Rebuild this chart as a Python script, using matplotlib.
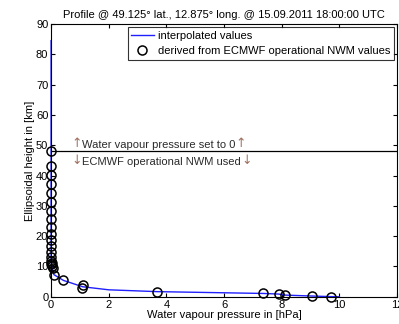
import matplotlib
matplotlib.use("Agg")
import matplotlib.pyplot as plt

plt.rcParams["font.family"] = ["Liberation Sans", "DejaVu Sans"]
plt.rcParams["font.size"] = 8

# ECMWF derived points: water vapour pressure [hPa], height [km]
e_pts = [0, 0, 0, 0, 0, 0, 0, 0, 0, 0, 0, 0, 0, 0, 0, 0.01, 0.02, 0.03,
         0.08, 0.1, 0.43, 1.07, 1.12, 3.67, 7.35, 7.89, 8.13, 9.05, 9.71]
h_pts = [48.2, 43.0, 40.3, 37.3, 34.3, 31.3, 28.3, 25.5, 22.9, 20.7, 18.7,
         16.6, 14.8, 13.2, 11.9, 10.9, 10.2, 11.0, 9.4, 7.3, 5.5, 2.8, 3.9,
         1.65, 1.1, 0.9, 0.56, 0.23, 0.0]

# interpolated profile
e_line = [10.0, 9.71, 9.05, 8.13, 7.89, 7.35, 3.67, 2.0, 1.1, 0.43, 0.1,
          0.03, 0.0, 0.0]
h_line = [0.0, 0.05, 0.25, 0.55, 0.9, 1.1, 1.7, 2.3, 3.3, 5.4, 7.3, 9.5,
          12.0, 84.5]

cut_height = 48.0
arrow_col = "#a0705f"
text_col = "#2a2a2a"

fig = plt.figure(figsize=(3.99, 3.24), dpi=100)
ax = fig.add_axes([0.128, 0.084, 0.867, 0.842])

ax.plot(e_line, h_line, color="#2020ff", lw=1.0, label="interpolated values",
        clip_on=False)
ax.plot(e_pts, h_pts, "o", mfc="none", mec="black", ms=6.5, mew=1.1,
        label="derived from ECMWF operational NWM values", clip_on=False,
        zorder=3)
ax.axhline(cut_height, color="black", lw=0.9)


def arrow_line(y, arrow, words, va):
    a1 = ax.text(0.72, y, arrow, color=arrow_col, va=va, ha="left",
                 family="DejaVu Sans", fontsize=9)
    t = ax.annotate(words, xy=(1, 0), xycoords=a1, va="bottom", ha="left",
                    color=text_col)
    ax.annotate(arrow, xy=(1, 0), xycoords=t, va="bottom", ha="left",
                color=arrow_col, family="DejaVu Sans", fontsize=9)


arrow_line(cut_height + 0.4, "\u2191", "Water vapour pressure set to 0", "bottom")
arrow_line(cut_height - 0.9, "\u2193", "ECMWF operational NWM used", "top")

ax.set_xlim(0, 12)
ax.set_ylim(0, 90)
ax.set_xticks(range(0, 13, 2))
ax.set_yticks(range(0, 91, 10))
ax.tick_params(direction="in", top=True, right=True, length=3, pad=2)
ax.set_xlabel("Water vapour pressure in [hPa]", labelpad=0)
ax.set_ylabel("Ellipsoidal height in [km]", labelpad=1)
ax.set_title("Profile @ 49.125\u00b0 lat., 12.875\u00b0 long. @ 15.09.2011 18:00:00 UTC",
             fontsize=8, pad=4)

leg = ax.legend(loc="upper right", fontsize=8, frameon=True, fancybox=False,
                edgecolor="black", borderpad=0.3, handlelength=2.0,
                handletextpad=0.4, labelspacing=0.5, borderaxespad=0.3)
leg.get_frame().set_linewidth(0.8)

fig.savefig("out.png", dpi=100)
